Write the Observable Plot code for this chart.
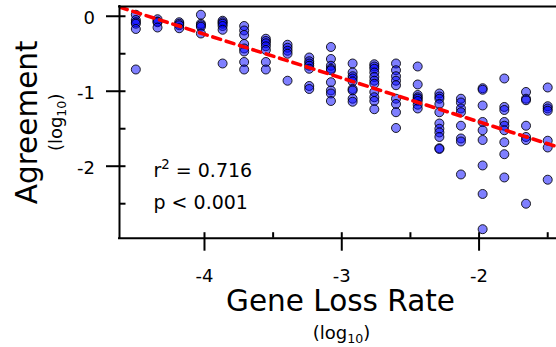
<!DOCTYPE html>
<html>
<head>
<meta charset="utf-8">
<script src="https://cdn.jsdelivr.net/npm/d3@7"></script>
<script src="https://cdn.jsdelivr.net/npm/@observablehq/plot@0.6"></script>
<style>
  html, body { margin: 0; padding: 0; background: #fff; }
  #chart svg { display: block; }
</style>
</head>
<body>
<div id="chart"></div>
<script>
// Gene loss rate columns (log10)
const lossRates = [-4.5, -4.342, -4.184, -4.026, -3.868, -3.711, -3.553, -3.395, -3.237, -3.079,
                   -2.921, -2.763, -2.605, -2.447, -2.289, -2.132, -1.974, -1.816, -1.658, -1.5];
// Agreement values (log10) per column
const agreement = [
  [0.02, -0.05, -0.08, -0.1, -0.17, -0.71],
  [-0.04, -0.07, -0.08, -0.15],
  [-0.08, -0.1, -0.12, -0.16],
  [0.02, -0.1, -0.12, -0.14, -0.23],
  [-0.06, -0.08, -0.1, -0.13, -0.18, -0.63],
  [-0.13, -0.19, -0.25, -0.37, -0.43, -0.47, -0.61, -0.71],
  [-0.3, -0.33, -0.36, -0.4, -0.45, -0.61, -0.71],
  [-0.38, -0.42, -0.46, -0.5, -0.86],
  [-0.55, -0.6, -0.63, -0.66, -0.7, -0.93, -0.97],
  [-0.41, -0.57, -0.66, -0.7, -0.72, -0.88, -0.99, -1.03, -1.13],
  [-0.63, -0.75, -0.8, -0.83, -0.87, -0.97, -0.99, -1.1, -1.14],
  [-0.64, -0.67, -0.7, -0.75, -0.81, -0.86, -0.9, -1.01, -1.08, -1.13, -1.24],
  [-0.63, -0.72, -0.8, -0.86, -0.92, -1.1, -1.17, -1.28, -1.49],
  [-0.67, -0.91, -1.05, -1.08, -1.1, -1.13, -1.18, -1.23],
  [-1.03, -1.07, -1.1, -1.17, -1.28, -1.43, -1.5, -1.55, -1.61, -1.76, -1.77],
  [-1.1, -1.15, -1.23, -1.28, -1.46, -1.63, -1.67, -2.11],
  [-0.96, -0.98, -1.19, -1.41, -1.52, -1.65, -1.99, -2.37, -2.84],
  [-0.83, -1.21, -1.25, -1.41, -1.46, -1.52, -1.68, -1.84, -2.15],
  [-1.01, -1.1, -1.12, -1.46, -1.61, -1.65, -2.5],
  [-0.95, -1.2, -1.23, -1.26, -1.66, -1.75, -2.18]
];
// Regression fit
const fitSlope = -0.584;
const fitIntercept = -2.576;
const statLines = ["r² = 0.716", "p < 0.001"];

const xTicks = [-4, -3, -2];
const xMinorTicks = [-3.5, -2.5, -1.5];
const yTicks = [0, -1, -2];
const yMinorTicks = [-0.5, -1.5, -2.5];
const xLabel = "Gene Loss Rate";
const yLabel = "Agreement";
const unitLabel = "(log10)";

const xDomain = [-4.619, -1.436];
const yDomain = [-2.96, 0.13];

const points = lossRates.flatMap((x, i) => agreement[i].map(y => ({x, y})));
const fitLine = xDomain.map(x => ({x, y: fitIntercept + fitSlope * x}));

const font = "DejaVu Sans";
const W = 556, H = 347;
const T = {fill: "#000", lineAnchor: "middle"};

const plot = Plot.plot({
  width: W,
  height: H,
  marginLeft: 119,
  marginRight: 0,
  marginTop: 6,
  marginBottom: 109.3,
  x: {domain: xDomain, axis: null},
  y: {domain: yDomain, axis: null},
  style: {fontFamily: font, background: "#fff", overflow: "visible"},
  marks: [
    Plot.dot(points, {x: "x", y: "y", r: 4.5, fill: "#0000ff", fillOpacity: 0.5,
      stroke: "#000", strokeOpacity: 0.85, strokeWidth: 1}),
    Plot.line(fitLine, {x: "x", y: "y", stroke: "#ff0000", strokeWidth: 3.6,
      strokeDasharray: "8,6", clip: true}),
    // spines
    Plot.ruleX([xDomain[0]], {stroke: "#000", strokeWidth: 2, strokeLinecap: "square"}),
    Plot.ruleY([yDomain[0]], {stroke: "#000", strokeWidth: 2, strokeLinecap: "square"}),
    Plot.ruleY([yDomain[1]], {stroke: "#000", strokeWidth: 2, strokeLinecap: "square"}),
    // ticks
    Plot.ruleY(yTicks, {y: d => d, x1: xDomain[0], x2: xDomain[0], insetLeft: -13, insetRight: -6.5, stroke: "#000", strokeWidth: 2}),
    Plot.ruleY(yMinorTicks, {y: d => d, x1: xDomain[0], x2: xDomain[0], insetLeft: 0, insetRight: -6.5, stroke: "#000", strokeWidth: 2}),
    Plot.ruleX(xTicks, {x: d => d, y1: yDomain[0], y2: yDomain[0], insetTop: -5.5, insetBottom: -13, stroke: "#000", strokeWidth: 2}),
    Plot.ruleX(xMinorTicks, {x: d => d, y1: yDomain[0], y2: yDomain[0], insetTop: -5.5, insetBottom: 0, stroke: "#000", strokeWidth: 2}),
    // tick labels
    Plot.text(xTicks, {...T, x: d => d, frameAnchor: "bottom", text: d => String(d), fontSize: 18,
      dy: 38, textAnchor: "middle"}),
    Plot.text(yTicks, {...T, y: d => d, frameAnchor: "left", text: d => String(d), fontSize: 18,
      dx: -24.5, dy: 2, textAnchor: "end"}),
    // axis labels
    Plot.text([xLabel], {...T, frameAnchor: "bottom", text: d => d, fontSize: 29.5, textAnchor: "middle", dx: 2.5, dy: 63.5}),
    Plot.text([unitLabel], {...T, frameAnchor: "bottom", text: d => d, fontSize: 18, textAnchor: "middle", dx: 3.5, dy: 95.5}),
    Plot.text([yLabel], {...T, frameAnchor: "left", text: d => d, fontSize: 29.5, textAnchor: "middle", rotate: -90, dx: -91.6, dy: 0}),
    Plot.text([unitLabel], {...T, frameAnchor: "left", text: d => d, fontSize: 18, textAnchor: "middle", rotate: -90, dx: -63, dy: 0}),
    // stats
    Plot.text([statLines[0]], {...T, frameAnchor: "left", text: d => d, fontSize: 19, textAnchor: "start", dx: 34, dy: 48.7}),
    Plot.text([statLines[1]], {...T, frameAnchor: "left", text: d => d, fontSize: 19, textAnchor: "start", dx: 34, dy: 81})
  ]
});

// Render "(log10)" with a true subscript and r² with a superscript
d3.select(plot).selectAll("text").each(function() {
  const el = d3.select(this);
  const t = el.text();
  if (t === unitLabel) {
    el.text(null);
    el.append("tspan").text("(log");
    el.append("tspan").attr("font-size", "0.7em").attr("dy", "0.3em").text("10");
    el.append("tspan").attr("dy", "-0.21em").text(")");
  } else if (t === statLines[0]) {
    el.text(null);
    el.append("tspan").text("r");
    el.append("tspan").attr("font-size", "0.7em").attr("dy", "-0.6em").text("2");
    el.append("tspan").attr("dy", "0.42em").text(" = 0.716");
  }
});
document.getElementById("chart").appendChild(plot);
</script>
</body>
</html>
